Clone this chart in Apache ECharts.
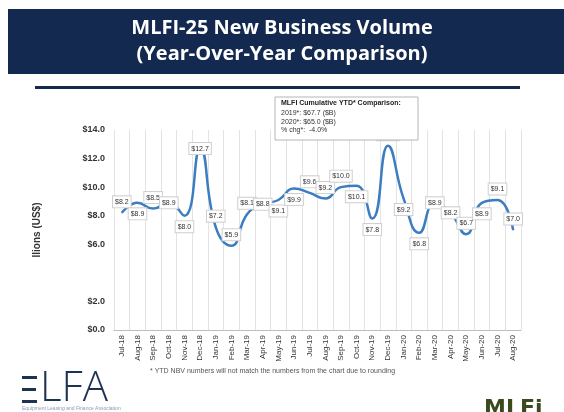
<!DOCTYPE html>
<html>
<head>
<meta charset="utf-8">
<script src="https://cdn.jsdelivr.net/npm/echarts@6/dist/echarts.min.js"></script>
<style>
  html, body { margin: 0; padding: 0; background: #fff; }
  #main { width: 564px; height: 412px; }
</style>
</head>
<body>
<div id="main"></div>
<script>
const months = ['Jul-18', 'Aug-18', 'Sep-18', 'Oct-18', 'Nov-18', 'Dec-18',
  'Jan-19', 'Feb-19', 'Mar-19', 'Apr-19', 'May-19', 'Jun-19', 'Jul-19', 'Aug-19',
  'Sep-19', 'Oct-19', 'Nov-19', 'Dec-19', 'Jan-20', 'Feb-20', 'Mar-20', 'Apr-20',
  'May-20', 'Jun-20', 'Jul-20', 'Aug-20']
const volume = [8.2, 8.9, 8.5, 8.9, 8.0, 12.7, 7.2, 5.9, 8.1, 8.8, 9.1, 9.9, 9.6,
  9.2, 10.0, 10.1, 7.8, 12.9, 9.2, 6.8, 8.9, 8.2, 6.7, 8.9, 9.1, 7.0]
const yTicks = [0, 2, 6, 8, 10, 12, 14]
const ytdLines = ['2019*: $67.7 ($B)', '2020*: $65.0 ($B)', '% chg*:  -4.0%']

// where each value label sits relative to its point
const labelPlace = ['top', 'bottom', 'top', 'inside', 'bottom', 'inside', 'top', 'top',
  'top', 'inside', 'bottom', 'bottom', 'top', 'top', 'top', 'bottom', 'bottom', 'top',
  'bottom', 'bottom', 'inside', 'inside', 'top', 'bottom', 'top', 'top']

const navy = '#14294f'
const logoBlue = '#1e3352'
const chart = echarts.init(document.getElementById('main'))

const seriesData = volume.map((v, i) => ({
  value: v,
  label: { position: labelPlace[i] }
}))

const option = {
  animation: false,
  backgroundColor: '#fff',
  graphic: [
    { type: 'rect', shape: { x: 8, y: 9, width: 556, height: 65 }, style: { fill: navy } },
    {
      type: 'text', left: 'center', top: 15,
      style: {
        text: 'MLFI-25 New Business Volume\n(Year-Over-Year Comparison)',
        fill: '#fff', font: 'bold 20px "Open Sans", "DejaVu Sans", sans-serif',
        textAlign: 'center', lineHeight: 26
      }
    },
    { type: 'rect', shape: { x: 35, y: 86, width: 485, height: 3 }, style: { fill: navy } },
    {
      type: 'rect', shape: { x: 275, y: 97, width: 143, height: 43 },
      style: { fill: '#fff', stroke: '#b5b5b5', lineWidth: 1 }, z: 10
    },
    {
      type: 'text', left: 281, top: 100, z: 11,
      style: { text: 'MLFI Cumulative YTD* Comparison:', fill: '#222', font: 'bold 7px "Liberation Sans", Arial, sans-serif' }
    },
    {
      type: 'text', left: 281, top: 109, z: 11,
      style: { text: ytdLines.join('\n'), fill: '#333', font: '7px "Liberation Sans", Arial, sans-serif', lineHeight: 8.5 }
    },
    {
      type: 'text', left: 150, top: 368,
      style: {
        text: '* YTD NBV numbers will not match the numbers from the chart due to rounding',
        fill: '#555', font: '7px "Liberation Sans", Arial, sans-serif'
      }
    },
    // ELFA logo: the E is three bars
    { type: 'rect', shape: { x: 22, y: 376, width: 15, height: 3 }, style: { fill: logoBlue } },
    { type: 'rect', shape: { x: 22, y: 388, width: 14, height: 3 }, style: { fill: logoBlue } },
    { type: 'rect', shape: { x: 22, y: 400, width: 15, height: 3 }, style: { fill: logoBlue } },
    {
      type: 'text', left: 40, top: 368,
      style: { text: 'LFA', fill: logoBlue, font: '300 42px "Open Sans", "DejaVu Sans", sans-serif' }
    },
    {
      type: 'text', left: 22, top: 406,
      style: { text: 'Equipment Leasing and Finance Association', fill: '#8a9bb5', font: '5px "Liberation Sans", Arial, sans-serif' }
    },
    {
      type: 'text', left: 484, top: 398,
      style: { text: 'MLFi', fill: '#3b4a1f', font: 'bold 22px "DejaVu Sans", sans-serif' }
    }
  ],
  grid: { left: 114, right: 43, top: 130, bottom: 82 },
  xAxis: {
    type: 'category',
    data: months,
    boundaryGap: true,
    axisLine: { lineStyle: { color: '#bdbdbd' } },
    axisTick: { lineStyle: { color: '#bdbdbd' }, length: 4 },
    splitLine: { show: true, lineStyle: { color: '#e3e3e3' } },
    axisLabel: { rotate: 90, fontSize: 8, color: '#333', margin: 5, interval: 0 }
  },
  yAxis: {
    type: 'value',
    min: 0,
    max: 14,
    interval: 2,
    name: 'llions (US$)',
    nameLocation: 'middle',
    nameGap: 72,
    nameTextStyle: { fontSize: 10, fontWeight: 'bold', color: '#333' },
    axisLine: { show: false },
    axisTick: { show: false },
    splitLine: { show: false },
    axisLabel: {
      fontSize: 9, fontWeight: 'bold', color: '#333', margin: 9,
      formatter: (v) => yTicks.includes(v) ? '$' + v.toFixed(1) : ''
    }
  },
  series: [{
    type: 'line',
    data: seriesData,
    smooth: 0.5,
    symbol: 'circle',
    symbolSize: 1,
    lineStyle: { color: '#3b7dc1', width: 2.5 },
    itemStyle: { color: '#3b7dc1' },
    label: {
      show: true,
      formatter: (p) => '$' + p.value.toFixed(1),
      fontSize: 7,
      color: '#333',
      backgroundColor: '#fff',
      borderColor: '#cfcfcf',
      borderWidth: 1,
      padding: [2, 2],
      distance: 5
    }
  }]
}

chart.setOption(option)
</script>
</body>
</html>
